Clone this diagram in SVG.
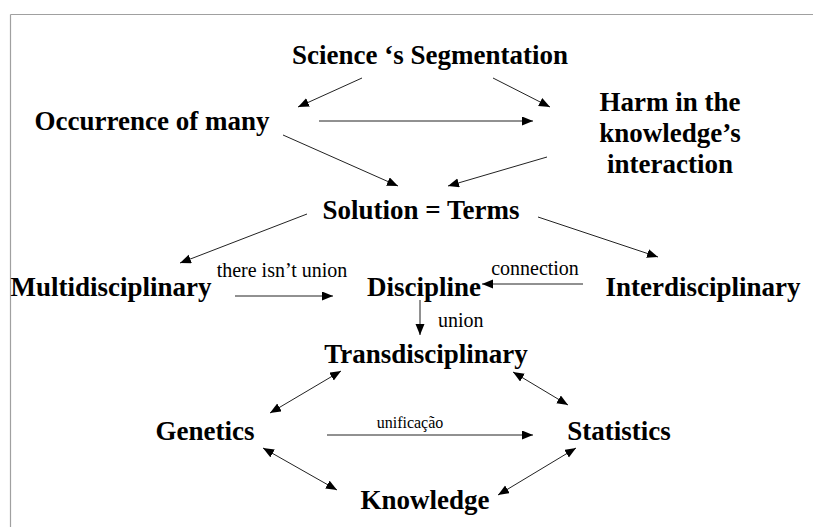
<svg xmlns="http://www.w3.org/2000/svg" width="814" height="527" viewBox="0 0 814 527">
<style>
.n{font-family:"Liberation Serif","Times New Roman",serif;font-weight:bold;font-size:27px;fill:#000}
.l{font-family:"Liberation Serif","Times New Roman",serif;font-size:20px;fill:#000}
.s{font-size:16px}
.c line{stroke:#222;stroke-width:1}
.a{marker-end:url(#ah)}
.d{marker-start:url(#ah);marker-end:url(#ah)}
</style>
<defs>
<marker id="ah" markerUnits="userSpaceOnUse" markerWidth="12" markerHeight="10" refX="11" refY="4.5" orient="auto-start-reverse">
<path d="M0,0 L11,4.5 L0,9 Z" fill="#000"/>
</marker>
</defs>
<rect width="814" height="527" fill="#fff"/>
<g id="frame" stroke="#a0a0a0" stroke-width="1.2" fill="none">
<line x1="10.5" y1="14.5" x2="813" y2="14.5"/>
<line x1="10.5" y1="14.5" x2="10.5" y2="527"/>
</g>
<g class="c" id="connectors">
<line class="a" x1="362" y1="78" x2="298" y2="107"/>
<line class="a" x1="493" y1="78" x2="550" y2="107"/>
<line class="a" x1="319" y1="121" x2="533" y2="121"/>
<line class="a" x1="283" y1="135" x2="398" y2="186"/>
<line class="a" x1="547" y1="157" x2="448" y2="186"/>
<line class="a" x1="307" y1="214" x2="180" y2="263"/>
<line class="a" x1="538" y1="217" x2="658" y2="257"/>
<line class="a" x1="235" y1="296" x2="333" y2="296"/>
<line class="a" x1="583" y1="284" x2="482" y2="284"/>
<line class="a" x1="420" y1="300" x2="420" y2="335"/>
<line class="d" x1="270" y1="413" x2="341" y2="371"/>
<line class="d" x1="513" y1="372" x2="568" y2="405"/>
<line class="a" x1="327" y1="435" x2="533" y2="435"/>
<line class="d" x1="263" y1="448" x2="337" y2="490"/>
<line class="d" x1="576" y1="448" x2="498" y2="495"/>
</g>
<g id="science"><text class="n" x="430" y="64" text-anchor="middle">Science ‘s Segmentation</text></g>
<g id="occurrence"><text class="n" x="152" y="130" text-anchor="middle">Occurrence of many</text></g>
<g id="harm"><text class="n" x="670" y="111" text-anchor="middle">Harm in the</text><text class="n" x="670" y="142" text-anchor="middle">knowledge’s</text><text class="n" x="670" y="173" text-anchor="middle">interaction</text></g>
<g id="solution"><text class="n" x="421" y="219" text-anchor="middle">Solution = Terms</text></g>
<g id="multi"><text class="n" x="111" y="296" text-anchor="middle">Multidisciplinary</text></g>
<g id="discipline"><text class="n" x="424" y="296" text-anchor="middle">Discipline</text></g>
<g id="inter"><text class="n" x="703" y="296" text-anchor="middle">Interdisciplinary</text></g>
<g id="trans"><text class="n" x="426" y="363" text-anchor="middle">Transdisciplinary</text></g>
<g id="genetics"><text class="n" x="205" y="440" text-anchor="middle">Genetics</text></g>
<g id="statistics"><text class="n" x="619" y="440" text-anchor="middle">Statistics</text></g>
<g id="knowledge"><text class="n" x="425" y="509" text-anchor="middle">Knowledge</text></g>
<g id="labels">
<text class="l" x="282" y="277" text-anchor="middle">there isn’t union</text>
<text class="l" x="535" y="275" text-anchor="middle">connection</text>
<text class="l" x="438" y="327">union</text>
<text class="l s" x="410" y="428" text-anchor="middle">unificação</text>
</g>
</svg>
